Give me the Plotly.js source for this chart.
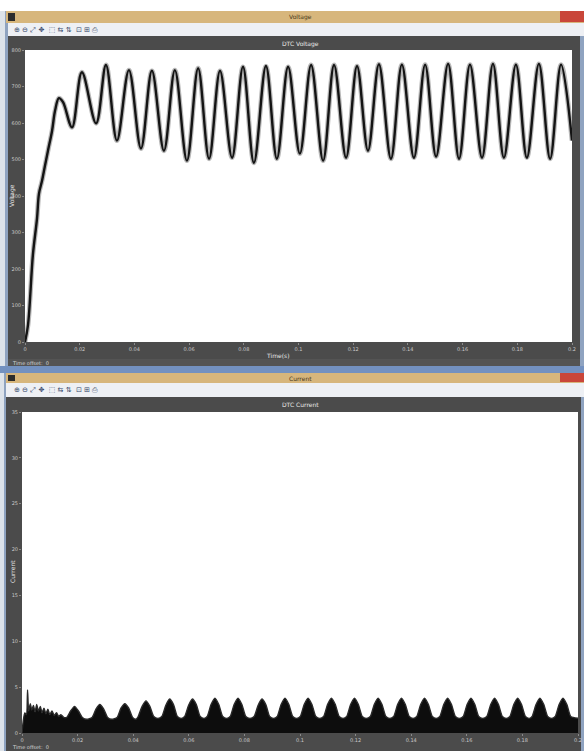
<!DOCTYPE html>
<html>
<head>
<meta charset="utf-8">
<script src="https://cdn.plot.ly/plotly-3.0.1.min.js"></script>
<style>
  html, body { margin: 0; padding: 0; background: #ffffff; }
  #chart { width: 584px; height: 751px; }
</style>
</head>
<body>
<div id="chart"></div>
<script>
// ---- DC-link voltage (top scope): turning points of the waveform ----
const voltTime = [
  0, 0.0011, 0.0029, 0.0044, 0.0051, 0.0062, 0.0073, 0.0084, 0.0099, 0.0110,
  0.0124, 0.0139, 0.0172, 0.0208, 0.0260, 0.0296, 0.0336, 0.0380, 0.0424,
  0.0464, 0.0508, 0.0548, 0.0592, 0.0633, 0.0673, 0.0713, 0.0757, 0.0797,
  0.0837, 0.0881, 0.0921, 0.0962, 0.1005, 0.1046, 0.1090, 0.1130, 0.1174,
  0.1214, 0.1254, 0.1294, 0.1338, 0.1378, 0.1422, 0.1463, 0.1503, 0.1547,
  0.1587, 0.1627, 0.1671, 0.1711, 0.1751, 0.1795, 0.1835, 0.1879, 0.1920,
  0.1960, 0.2000
];
const voltValue = [
  0, 47, 240, 339, 406, 441, 483, 524, 579, 634,
  668, 657, 588, 739, 599, 759, 552, 745, 530,
  743, 524, 745, 497, 750, 502, 743, 505, 754,
  491, 756, 502, 754, 516, 759, 497, 759, 505,
  756, 524, 761, 502, 760, 505, 760, 508, 762,
  502, 760, 505, 762, 505, 760, 505, 762, 502,
  760, 552
];

// ---- Line current (bottom scope): upper envelope of the switching ripple ----
const currTime = [
  0, 0.0004, 0.0010, 0.0016, 0.0020, 0.0024, 0.0030, 0.0035, 0.0041, 0.0047,
  0.0053, 0.0059, 0.0066, 0.0072, 0.0079, 0.0086, 0.0093, 0.0100, 0.0108,
  0.0116, 0.0124, 0.0132, 0.0140, 0.0150,
  0.0161, 0.0175, 0.0189, 0.0203, 0.0217, 0.0233,
  0.0252, 0.0266, 0.0280, 0.0294, 0.0308, 0.0323,
  0.0342, 0.0356, 0.0370, 0.0384, 0.0398, 0.0410,
  0.0418, 0.0432, 0.0446, 0.0460, 0.0474, 0.0489,
  0.0503, 0.0517, 0.0531, 0.0545, 0.0559, 0.0573,
  0.0585, 0.0599, 0.0613, 0.0627, 0.0641, 0.0655,
  0.0666, 0.0680, 0.0694, 0.0708, 0.0722, 0.0736,
  0.0749, 0.0763, 0.0777, 0.0791, 0.0805, 0.0820,
  0.0835, 0.0849, 0.0863, 0.0877, 0.0891, 0.0905,
  0.0918, 0.0932, 0.0946, 0.0960, 0.0974, 0.0988,
  0.1001, 0.1015, 0.1029, 0.1043, 0.1057, 0.1071,
  0.1085, 0.1099, 0.1113, 0.1127, 0.1141, 0.1155,
  0.1168, 0.1182, 0.1196, 0.1210, 0.1224, 0.1238,
  0.1253, 0.1267, 0.1281, 0.1295, 0.1309, 0.1323,
  0.1337, 0.1351, 0.1365, 0.1379, 0.1393, 0.1407,
  0.1420, 0.1434, 0.1448, 0.1462, 0.1476, 0.1490,
  0.1503, 0.1517, 0.1531, 0.1545, 0.1559, 0.1573,
  0.1587, 0.1601, 0.1615, 0.1629, 0.1643, 0.1657,
  0.1672, 0.1686, 0.1700, 0.1714, 0.1728, 0.1742,
  0.1755, 0.1769, 0.1783, 0.1797, 0.1811, 0.1825,
  0.1835, 0.1849, 0.1863, 0.1877, 0.1891, 0.1905,
  0.1918, 0.1932, 0.1946, 0.1960, 0.1974, 0.2000
];
const currValue = [
  0, 1.2, 2.2, 2.0, 4.7, 2.4, 3.2, 2.5, 3.0, 2.3,
  3.1, 2.4, 2.9, 2.2, 2.7, 2.1, 2.6, 2.0, 2.4,
  1.9, 2.2, 1.8, 2.0, 1.7,
  1.7, 2.4, 2.9, 2.4, 1.7, 1.5,
  1.7, 2.6, 3.1, 2.6, 1.7, 1.5,
  1.7, 2.7, 3.2, 2.7, 1.7, 1.5,
  1.8, 2.9, 3.5, 2.9, 1.8, 1.6,
  1.8, 3.0, 3.7, 3.1, 1.8, 1.6,
  1.8, 3.0, 3.7, 3.1, 1.8, 1.6,
  1.8, 3.1, 3.8, 3.1, 1.8, 1.6,
  1.8, 3.1, 3.8, 3.1, 1.8, 1.6,
  1.8, 3.0, 3.7, 3.1, 1.8, 1.6,
  1.8, 3.1, 3.8, 3.1, 1.8, 1.6,
  1.8, 3.1, 3.8, 3.1, 1.8, 1.6,
  1.8, 3.1, 3.8, 3.1, 1.8, 1.6,
  1.8, 3.1, 3.8, 3.1, 1.8, 1.6,
  1.8, 3.1, 3.8, 3.1, 1.8, 1.6,
  1.8, 3.1, 3.8, 3.1, 1.8, 1.6,
  1.8, 3.1, 3.8, 3.1, 1.8, 1.6,
  1.8, 3.1, 3.8, 3.1, 1.8, 1.6,
  1.8, 3.1, 3.8, 3.1, 1.8, 1.6,
  1.8, 3.1, 3.8, 3.1, 1.8, 1.6,
  1.8, 3.1, 3.8, 3.1, 1.8, 1.6,
  1.8, 3.1, 3.8, 3.1, 1.8, 1.6,
  1.8, 3.1, 3.8, 3.1, 1.8, 1.6
];

// ---- Axis ticks ----
const timeTicks = [0, 0.02, 0.04, 0.06, 0.08, 0.1, 0.12, 0.14, 0.16, 0.18, 0.2];
const timeTickText = ['0', '0.02', '0.04', '0.06', '0.08', '0.1', '0.12', '0.14', '0.16', '0.18', '0.2'];
const voltTicks = [0, 100, 200, 300, 400, 500, 600, 700, 800];
const currTicks = [0, 5, 10, 15, 20, 25, 30, 35];

// ---- Text ----
const windowTitles = ['Voltage', 'Current'];
const scopeTitles = ['DTC Voltage', 'DTC Current'];
const yTitles = ['Voltage', 'Current'];
const xTitle = 'Time(s)';
const offsetText = 'Time offset:  0';
const toolIcons = '⊕ ⊖ ⤢ ✥  ⬚ ⇆ ⇅  ⊡ ⊞ ⎙';

// pixel -> paper helpers for the window frame
const W = 584, H = 751;
const px = x => x / W;
const py = y => 1 - y / H;

function rect(x0, y0, x1, y1, color) {
  return { type: 'rect', xref: 'paper', yref: 'paper', layer: 'below',
           x0: px(x0), x1: px(x1), y0: py(y1), y1: py(y0),
           fillcolor: color, line: { width: 0 } };
}
function label(x, y, text, opts) {
  return Object.assign({ xref: 'paper', yref: 'paper', x: px(x), y: py(y),
    text: text, showarrow: false, xanchor: 'center', yanchor: 'middle',
    font: { family: 'DejaVu Sans, Arial', size: 6, color: '#e6e6e6' } }, opts || {});
}

const TAN = '#d7b67c', BAR = '#eef0f4', DARK = '#4b4b4b', EDGE = '#8fa3c0', BLUE = '#7391c0', RED = '#c9463a';

const shapes = [
  // upper window
  rect(0, 11, 584, 373, '#dde3ea'),
  rect(5, 11, 584, 373, EDGE),
  rect(6, 11, 584, 23, TAN),
  rect(8, 13, 15, 21, '#2c2c2c'),
  rect(560, 11, 584, 22, RED),
  rect(8, 23, 584, 36, BAR),
  rect(8, 36, 580, 366, DARK),
  rect(8, 359, 580, 366, '#545454'),
  rect(25, 50, 572, 342, '#ffffff'),
  rect(0, 366, 584, 373, BLUE),
  // lower window
  rect(0, 373, 584, 751, '#dde3ea'),
  rect(4, 373, 584, 751, EDGE),
  rect(6, 373, 584, 383, TAN),
  rect(8, 375, 15, 381, '#2c2c2c'),
  rect(560, 373, 584, 382, RED),
  rect(6, 383, 584, 397, BAR),
  rect(6, 397, 581, 751, DARK),
  rect(22, 412, 578, 733, '#ffffff')
];

const annotations = [
  label(300, 17, windowTitles[0], { font: { family: 'DejaVu Sans', size: 6, color: '#4a3a20' } }),
  label(300, 378, windowTitles[1], { font: { family: 'DejaVu Sans', size: 6, color: '#4a3a20' } }),
  label(12, 29.5, toolIcons, { xanchor: 'left', font: { family: 'DejaVu Sans', size: 7, color: '#34476a' } }),
  label(12, 390, toolIcons, { xanchor: 'left', font: { family: 'DejaVu Sans', size: 7, color: '#34476a' } }),
  label(300, 44, scopeTitles[0]),
  label(300, 405, scopeTitles[1]),
  label(12, 196, yTitles[0], { textangle: -90 }),
  label(12, 572, yTitles[1], { textangle: -90 }),
  label(278, 355, xTitle),
  label(10, 362.5, offsetText, { xanchor: 'left', font: { family: 'DejaVu Sans', size: 5, color: '#d8d8d8' } }),
  label(10, 747, offsetText, { xanchor: 'left', font: { family: 'DejaVu Sans', size: 5, color: '#d8d8d8' } })
];

const tickFont = { family: 'DejaVu Sans, Arial', size: 5, color: '#c9c9c9' };
const axisCommon = {
  showgrid: false, zeroline: false, showline: false,
  ticks: 'outside', ticklen: 2, tickcolor: '#8a8a8a',
  tickfont: tickFont, fixedrange: true
};

const traces = [
  // soft halo under the voltage trace
  { x: voltTime, y: voltValue, xaxis: 'x', yaxis: 'y', type: 'scatter', mode: 'lines',
    line: { color: 'rgba(0,0,0,0.28)', width: 4.8, shape: 'spline', smoothing: 1 }, hoverinfo: 'skip' },
  { x: voltTime, y: voltValue, xaxis: 'x', yaxis: 'y', type: 'scatter', mode: 'lines',
    line: { color: '#141414', width: 2.4, shape: 'spline', smoothing: 1 }, name: 'Voltage' },
  { x: currTime, y: currValue, xaxis: 'x2', yaxis: 'y2', type: 'scatter', mode: 'lines',
    fill: 'tozeroy', fillcolor: '#0d0d0d',
    line: { color: '#2a2a2a', width: 1.4, shape: 'spline', smoothing: 0.6 }, name: 'Current' }
];

const layout = {
  width: W, height: H,
  margin: { l: 0, r: 0, t: 0, b: 0 },
  paper_bgcolor: '#ffffff', plot_bgcolor: 'rgba(0,0,0,0)',
  showlegend: false,
  xaxis: Object.assign({}, axisCommon, { domain: [px(25), px(572)], anchor: 'y', range: [0, 0.2],
    tickvals: timeTicks, ticktext: timeTickText }),
  yaxis: Object.assign({}, axisCommon, { domain: [py(342), py(50)], anchor: 'x', range: [0, 800],
    tickvals: voltTicks }),
  xaxis2: Object.assign({}, axisCommon, { domain: [px(22), px(578)], anchor: 'y2', range: [0, 0.2],
    tickvals: timeTicks, ticktext: timeTickText }),
  yaxis2: Object.assign({}, axisCommon, { domain: [py(733), py(412)], anchor: 'x2', range: [0, 35],
    tickvals: currTicks }),
  shapes: shapes,
  annotations: annotations
};

Plotly.newPlot('chart', traces, layout, { displayModeBar: false, staticPlot: true });
</script>
</body>
</html>
